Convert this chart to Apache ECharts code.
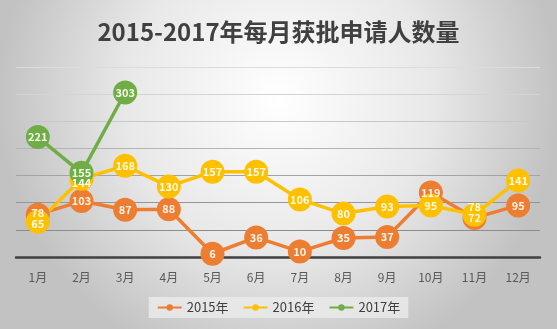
<!DOCTYPE html>
<html>
<head>
<meta charset="utf-8">
<script src="https://cdn.jsdelivr.net/npm/echarts@6/dist/echarts.min.js"></script>
<style>
html,body{margin:0;padding:0;}
#chart{width:557px;height:329px;}
</style>
</head>
<body>
<div id="chart"></div>
<script>
// Monthly approved applicants, 2015–2017
const months = ['1月','2月','3月','4月','5月','6月','7月','8月','9月','10月','11月','12月'];
const seriesNames = ['2015年','2016年','2017年'];
const values2015 = [78, 103, 87, 88, 6, 36, 10, 35, 37, 119, 72, 95];
const values2016 = [65, 144, 168, 130, 157, 157, 106, 80, 93, 95, 78, 141];
const values2017 = [221, 155, 303];

const colors = ['#ED7D31', '#FFC000', '#70AD47'];
const labelColors = ['#fff4ea', '#fffbe6', '#f4fbe8'];
// split lines fade from darker near the baseline to pale at the top
const gridColors = ['#404040', '#8c8c8c', '#969696', '#a4a4a4', '#b4b4b4', '#c8c8c8', '#d4d4d4', '#dcdcdc'];
const FONT = '"Noto Sans CJK SC", "Noto Sans", sans-serif';

// small label nudges where neighbouring points crowd each other
// (series index -> month index -> [dx, dy])
const labelNudge = {
  0: { 0: [0, -2] },
  1: { 0: [0, 2], 1: [0, 4], 10: [0, -8] }
};

function makeSeries(name, values, i) {
  const nudges = labelNudge[i] || {};
  const data = values.map(function (v, k) {
    return nudges[k] ? { value: v, label: { offset: nudges[k] } } : v;
  });
  return {
    name: name,
    type: 'line',
    data: data,
    symbol: 'circle',
    symbolSize: 24,
    itemStyle: { color: colors[i] },
    lineStyle: { color: colors[i], width: 3.5 },
    label: {
      show: true,
      position: 'inside',
      color: labelColors[i],
      fontFamily: FONT,
      fontWeight: 'bold',
      fontSize: 11
    }
  };
}

const chart = echarts.init(document.getElementById('chart'));
chart.setOption({
  animation: false,
  backgroundColor: {
    type: 'radial', x: 0.5, y: 0.3, r: 0.85,
    colorStops: [
      { offset: 0, color: '#ffffff' },
      { offset: 0.55, color: '#e8e8e8' },
      { offset: 1, color: '#c2c2c2' }
    ]
  },
  title: {
    text: '2015-2017年每月获批申请人数量',
    left: 'center',
    top: 15,
    textStyle: { fontFamily: FONT, fontWeight: 'bold', fontSize: 24, color: '#404040' }
  },
  legend: {
    data: seriesNames,
    bottom: 11,
    left: 'center',
    itemWidth: 24,
    itemHeight: 8,
    itemGap: 14,
    backgroundColor: 'rgba(235,235,235,0.8)',
    padding: [4, 8],
    textStyle: { fontFamily: FONT, fontSize: 13, color: '#404040' }
  },
  grid: { left: 16, right: 17, top: 67, bottom: 72 },
  xAxis: {
    type: 'category',
    data: months,
    boundaryGap: true,
    axisLine: { lineStyle: { color: '#404040', width: 2.5 } },
    axisTick: { show: false },
    axisLabel: { color: '#595959', fontFamily: FONT, fontSize: 12, margin: 14 }
  },
  yAxis: {
    type: 'value',
    min: 0,
    max: 350,
    interval: 50,
    axisLabel: { show: false },
    axisLine: { show: false },
    axisTick: { show: false },
    splitLine: { lineStyle: { color: gridColors, width: 1 } }
  },
  series: [
    makeSeries(seriesNames[0], values2015, 0),
    makeSeries(seriesNames[1], values2016, 1),
    makeSeries(seriesNames[2], values2017, 2)
  ]
});
</script>
</body>
</html>
